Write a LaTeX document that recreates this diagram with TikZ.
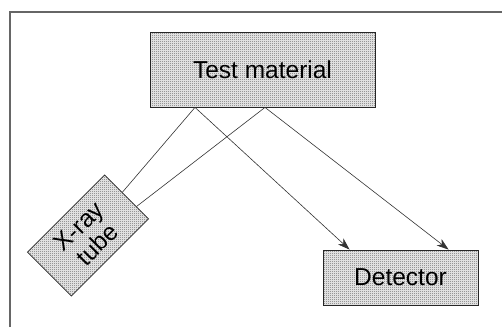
\documentclass[tikz,border=0pt]{standalone}
\usepackage{fontspec}
\setmainfont{Liberation Sans}
\usetikzlibrary{calc,arrows.meta,patterns}

% fine halftone used for the grey boxes
\pgfdeclarepatternformonly{stipple}{\pgfpointorigin}{\pgfpoint{2pt}{2pt}}{\pgfpoint{2pt}{2pt}}{%
    \pgfpathrectangle{\pgfpointorigin}{\pgfpoint{1pt}{1pt}}\pgfusepath{fill}}

\tikzset{
    partbox/.style={draw=black!85, line width=0.8pt, rectangle, inner sep=0pt,
        preaction={fill=black!12}, pattern=stipple, pattern color=black!80,
        font=\fontsize{24.5}{26}\selectfont, align=center},
    ray/.style={draw=black!80, line width=0.6pt},
    beam/.style={ray, -{Stealth[length=12pt,width=8pt,inset=3.5pt]}}
}

\begin{document}
\begin{tikzpicture}[x=1pt,y=-1pt]
    \useasboundingbox (0,0) rectangle (502,327);
    \fill[white] (0,0) rectangle (502,327);

    % frame
    \draw[black!60, line width=1.5pt] (10,327) |- (502,12);

    \node[partbox, minimum width=225pt, minimum height=75pt] (test) at (262.5,69.5){Test material};
    \node[partbox, minimum width=155pt, minimum height=55pt] (det) at (400.5,277.5){Detector};
    \node[partbox, minimum width=109pt, minimum height=62pt, rotate=45] (tube) at (88,235.5){X-ray\\tube};

    \coordinate (hitA) at ([xshift=-67.5pt]test.south);
    \coordinate (hitB) at ([xshift=2.5pt]test.south);

    \draw[ray] ($(tube.north east)!0.4!(tube.south east)$) -- (hitA);
    \draw[ray] ($(tube.north east)!0.72!(tube.south east)$) -- (hitB);

    \draw[beam] (hitA) -- ([xshift=27pt]det.north west);
    \draw[beam] (hitB) -- ([xshift=126pt]det.north west);
\end{tikzpicture}
\end{document}
